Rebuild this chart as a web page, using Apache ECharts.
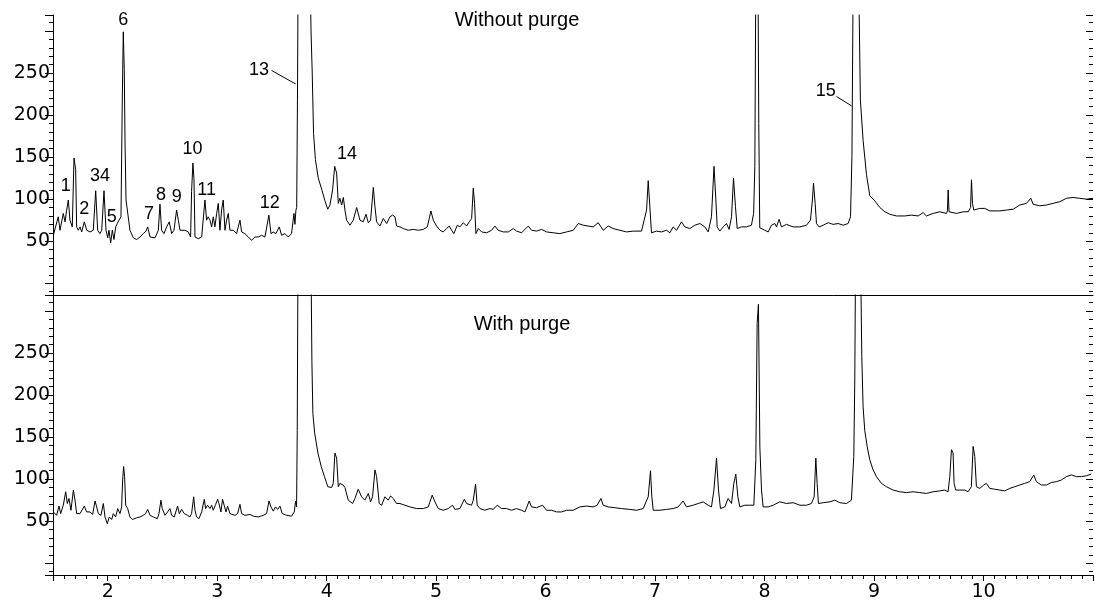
<!DOCTYPE html>
<html>
<head>
<meta charset="utf-8">
<title>Without purge / With purge</title>
<script src="https://cdn.jsdelivr.net/npm/echarts@6/dist/echarts.min.js"></script>
<style>
html, body { margin: 0; padding: 0; background: #fff; }
#chart { width: 1097px; height: 602px; }
</style>
</head>
<body>
<div id="chart"></div>
<script>
// [retention time (min), signal]
const withoutPurge = [
  [1.503,57],[1.548,79],[1.564,63],[1.594,83],[1.610,73],[1.625,87],[1.640,99],[1.655,75],[1.676,67],[1.692,149],
  [1.707,135],[1.716,67],[1.731,63],[1.747,67],[1.762,61],[1.786,73],[1.808,63],[1.838,61],[1.868,63],[1.890,110],
  [1.908,63],[1.929,59],[1.945,63],[1.966,110],[1.984,63],[2.000,54],[2.011,63],[2.027,48],[2.042,63],[2.057,52],
  [2.073,67],[2.087,71],[2.103,75],[2.121,79],[2.133,218],[2.142,299],[2.151,254],[2.158,167],[2.167,99],[2.182,97],
  [2.203,63],[2.234,54],[2.264,52],[2.295,55],[2.325,59],[2.350,62],[2.365,67],[2.386,55],[2.432,54],[2.462,63],
  [2.477,94],[2.492,63],[2.514,59],[2.538,67],[2.562,73],[2.584,59],[2.605,63],[2.629,87],[2.645,75],[2.660,63],
  [2.675,65],[2.705,63],[2.736,61],[2.757,55],[2.766,109],[2.778,143],[2.788,123],[2.797,55],[2.827,53],[2.858,55],
  [2.888,99],[2.903,75],[2.918,79],[2.934,75],[2.949,67],[2.964,79],[2.979,67],[2.995,83],[3.010,95],[3.025,63],
  [3.040,87],[3.055,99],[3.071,63],[3.086,75],[3.101,83],[3.116,63],[3.131,61],[3.147,63],[3.177,59],[3.208,75],
  [3.223,61],[3.253,59],[3.284,55],[3.314,51],[3.345,55],[3.375,55],[3.405,57],[3.436,55],[3.472,81],[3.491,59],
  [3.512,61],[3.536,59],[3.567,67],[3.588,57],[3.619,59],[3.649,55],[3.679,59],[3.701,83],[3.710,70],[3.719,87],
  [3.726,90],[3.733,218],[3.738,340],[3.795,3000],[3.852,340],[3.857,300],[3.868,250],[3.880,178],[3.897,147],[3.923,125],
  [3.954,112],[3.984,98],[4.010,88],[4.030,93],[4.054,111],[4.073,139],[4.091,131],[4.106,95],[4.121,101],[4.137,93],
  [4.152,102],[4.167,87],[4.182,75],[4.213,69],[4.243,75],[4.274,90],[4.304,75],[4.334,73],[4.359,82],[4.380,72],
  [4.401,75],[4.426,114],[4.441,91],[4.456,73],[4.487,68],[4.517,77],[4.548,71],[4.578,79],[4.602,81],[4.624,79],
  [4.639,68],[4.669,67],[4.700,65],[4.745,63],[4.791,64],[4.837,63],[4.882,64],[4.919,67],[4.937,77],[4.952,86],
  [4.974,75],[5.004,68],[5.035,63],[5.065,61],[5.095,65],[5.120,68],[5.141,63],[5.162,59],[5.193,69],[5.217,67],
  [5.248,72],[5.278,68],[5.302,73],[5.324,77],[5.339,113],[5.351,95],[5.363,59],[5.385,65],[5.415,61],[5.461,60],
  [5.506,63],[5.537,68],[5.567,63],[5.613,61],[5.659,61],[5.704,65],[5.735,62],[5.780,60],[5.841,68],[5.872,63],
  [5.917,62],[5.963,64],[6.009,61],[6.070,60],[6.130,59],[6.191,61],[6.252,63],[6.298,71],[6.344,69],[6.389,68],
  [6.435,67],[6.480,72],[6.526,63],[6.571,68],[6.617,65],[6.678,63],[6.739,61],[6.800,62],[6.876,62],[6.900,75],
  [6.922,87],[6.937,122],[6.952,91],[6.967,60],[7.013,62],[7.058,61],[7.104,63],[7.135,60],[7.165,67],[7.196,63],
  [7.241,73],[7.272,67],[7.317,65],[7.363,69],[7.409,71],[7.454,67],[7.485,61],[7.515,79],[7.538,139],[7.555,99],
  [7.567,67],[7.591,62],[7.622,67],[7.652,71],[7.676,64],[7.698,79],[7.716,125],[7.734,91],[7.750,65],[7.789,67],
  [7.835,67],[7.880,69],[7.900,83],[7.911,139],[7.919,340],[7.930,700],[7.941,340],[7.947,190],[7.956,66],[8.002,63],
  [8.033,61],[8.063,69],[8.094,71],[8.109,67],[8.133,76],[8.154,67],[8.200,70],[8.261,67],[8.322,67],[8.383,69],
  [8.419,75],[8.437,99],[8.447,119],[8.462,95],[8.474,71],[8.498,67],[8.535,69],[8.581,72],[8.626,70],[8.672,71],
  [8.718,69],[8.763,71],[8.785,79],[8.798,151],[8.808,340],[8.835,2000],[8.862,340],[8.875,218],[8.900,170],[8.931,129],
  [8.961,104],[9.007,98],[9.053,90],[9.098,85],[9.144,82],[9.205,80],[9.281,80],[9.342,81],[9.403,80],[9.448,84],
  [9.479,80],[9.540,83],[9.601,85],[9.662,83],[9.670,86],[9.677,111],[9.685,85],[9.753,83],[9.814,85],[9.860,85],
  [9.882,90],[9.890,123],[9.899,95],[9.911,87],[9.966,89],[10.012,89],[10.057,86],[10.149,86],[10.210,87],[10.271,88],
  [10.331,93],[10.392,95],[10.432,101],[10.453,94],[10.514,92],[10.575,93],[10.636,95],[10.697,97],[10.757,101],[10.818,102],
  [10.879,101],[10.940,100],[11.000,101]
];

const withPurge = [
  [1.503,61],[1.533,57],[1.555,68],[1.570,59],[1.594,69],[1.616,85],[1.631,71],[1.646,77],[1.664,63],[1.686,87],
  [1.701,75],[1.716,59],[1.747,59],[1.762,61],[1.786,68],[1.807,61],[1.838,61],[1.862,58],[1.884,74],[1.899,67],
  [1.914,59],[1.938,57],[1.960,71],[1.975,55],[1.996,47],[2.014,55],[2.036,52],[2.051,59],[2.072,55],[2.091,65],
  [2.112,59],[2.127,67],[2.136,99],[2.145,115],[2.154,103],[2.164,69],[2.182,65],[2.203,55],[2.225,52],[2.264,54],
  [2.295,55],[2.325,57],[2.346,59],[2.365,64],[2.386,57],[2.416,55],[2.453,53],[2.468,59],[2.486,75],[2.498,65],
  [2.523,57],[2.547,61],[2.568,65],[2.584,57],[2.608,55],[2.638,68],[2.654,59],[2.675,64],[2.699,59],[2.730,57],
  [2.751,55],[2.766,59],[2.785,79],[2.797,63],[2.812,55],[2.833,53],[2.858,61],[2.882,76],[2.894,65],[2.912,69],
  [2.934,65],[2.949,69],[2.964,63],[2.986,70],[3.004,76],[3.016,71],[3.034,61],[3.049,76],[3.065,77],[3.080,61],
  [3.095,68],[3.116,59],[3.132,57],[3.162,57],[3.186,59],[3.208,70],[3.223,59],[3.253,57],[3.299,58],[3.330,56],
  [3.375,55],[3.421,57],[3.451,59],[3.473,74],[3.491,67],[3.512,62],[3.533,67],[3.552,64],[3.573,68],[3.594,59],
  [3.634,57],[3.680,56],[3.704,61],[3.716,74],[3.725,67],[3.731,158],[3.737,340],[3.800,3000],[3.858,340],[3.865,240],
  [3.874,178],[3.890,155],[3.920,131],[3.950,115],[3.980,103],[4.010,91],[4.045,90],[4.060,95],[4.075,131],[4.091,125],
  [4.106,91],[4.121,95],[4.151,93],[4.167,90],[4.197,75],[4.237,71],[4.258,77],[4.288,88],[4.319,79],[4.349,75],
  [4.380,83],[4.401,73],[4.419,79],[4.441,111],[4.456,103],[4.480,71],[4.502,69],[4.532,79],[4.562,75],[4.584,80],
  [4.608,77],[4.638,71],[4.669,71],[4.715,69],[4.760,67],[4.821,65],[4.882,65],[4.928,67],[4.964,81],[4.989,73],
  [5.019,65],[5.065,63],[5.110,65],[5.150,69],[5.171,64],[5.217,65],[5.257,76],[5.278,71],[5.323,69],[5.339,75],
  [5.360,94],[5.375,69],[5.400,65],[5.445,63],[5.491,65],[5.521,64],[5.558,69],[5.597,65],[5.643,65],[5.689,63],
  [5.734,65],[5.780,63],[5.811,61],[5.850,74],[5.871,67],[5.917,66],[5.972,69],[6.008,63],[6.054,63],[6.100,61],
  [6.145,61],[6.191,63],[6.252,63],[6.313,67],[6.374,68],[6.435,67],[6.471,69],[6.505,77],[6.526,69],[6.572,67],
  [6.632,66],[6.693,65],[6.769,64],[6.830,63],[6.891,65],[6.937,79],[6.958,110],[6.970,79],[6.983,63],[7.043,63],
  [7.104,64],[7.165,65],[7.211,67],[7.256,74],[7.287,67],[7.348,69],[7.393,71],[7.439,73],[7.485,69],[7.515,67],
  [7.537,87],[7.561,125],[7.579,87],[7.597,65],[7.637,67],[7.667,77],[7.698,71],[7.719,95],[7.737,106],[7.756,79],
  [7.774,67],[7.820,69],[7.865,69],[7.902,69],[7.920,123],[7.932,285],[7.944,308],[7.957,138],[7.972,87],[7.987,67],
  [8.033,67],[8.078,69],[8.139,73],[8.200,71],[8.261,72],[8.322,69],[8.383,69],[8.428,71],[8.453,79],[8.468,125],
  [8.480,95],[8.492,71],[8.535,72],[8.596,73],[8.641,75],[8.687,72],[8.748,71],[8.793,75],[8.815,127],[8.824,218],
  [8.830,340],[8.855,2000],[8.879,340],[8.888,246],[8.900,186],[8.915,158],[8.937,139],[8.961,123],[8.991,111],[9.022,103],
  [9.067,95],[9.113,91],[9.174,87],[9.235,85],[9.296,84],[9.357,85],[9.418,84],[9.478,83],[9.539,85],[9.600,86],
  [9.646,87],[9.676,85],[9.692,103],[9.707,135],[9.722,131],[9.731,95],[9.746,87],[9.783,87],[9.829,87],[9.859,85],
  [9.889,91],[9.905,139],[9.920,127],[9.935,91],[9.966,89],[10.002,93],[10.026,95],[10.057,89],[10.102,88],[10.148,87],
  [10.194,86],[10.239,89],[10.285,91],[10.331,93],[10.376,95],[10.422,97],[10.459,105],[10.483,97],[10.529,93],[10.574,93],
  [10.620,96],[10.666,97],[10.711,99],[10.757,103],[10.803,105],[10.848,103],[10.894,103],[10.940,104],[10.985,106]
];

const panelTitles = ['Without purge', 'With purge'];
const xTickLabels = [2, 3, 4, 5, 6, 7, 8, 9, 10];
const yTickLabels = [50, 100, 150, 200, 250];

// peak numbers of the upper trace, anchored at [time, signal]
const peakLabels = [
  { name: '1', time: 1.617, signal: 116 },
  { name: '2', time: 1.786, signal: 88 },
  { name: '34', time: 1.929, signal: 127 },
  { name: '5', time: 2.036, signal: 79 },
  { name: '6', time: 2.142, signal: 313 },
  { name: '7', time: 2.377, signal: 82 },
  { name: '8', time: 2.486, signal: 105 },
  { name: '9', time: 2.630, signal: 102 },
  { name: '10', time: 2.774, signal: 160 },
  { name: '11', time: 2.904, signal: 111 },
  { name: '12', time: 3.479, signal: 95 },
  { name: '13', time: 3.381, signal: 254 },
  { name: '14', time: 4.185, signal: 154 },
  { name: '15', time: 8.559, signal: 229 }
];
// leader lines from labels 13 and 15 to their peaks
const leaderLines = [
  [[3.497, 253], [3.716, 237]],
  [[8.657, 222], [8.794, 211]]
];

const black = '#000';
const axisFont = { fontFamily: 'DejaVu Sans', fontSize: 19, color: black };

function xAxisFor(gridIndex, showTicks) {
  return {
    type: 'value', gridIndex: gridIndex, min: 1.5, max: 11,
    minInterval: 1, maxInterval: 1,
    axisLine: { show: true, onZero: false, lineStyle: { color: black, width: 1 } },
    axisTick: { show: showTicks, length: 6, lineStyle: { color: black } },
    minorTick: { show: showTicks, splitNumber: 10, length: 4, lineStyle: { color: black } },
    axisLabel: Object.assign({
      show: showTicks, margin: 8,
      formatter: function (v) { return xTickLabels.indexOf(v) >= 0 ? String(v) : ''; }
    }, axisFont),
    splitLine: { show: false }
  };
}

function yAxisFor(gridIndex, right) {
  return {
    type: 'value', gridIndex: gridIndex, position: right ? 'right' : 'left',
    min: -14, max: 319, minInterval: 50, maxInterval: 50,
    axisLine: { show: !right, onZero: false, lineStyle: { color: black, width: 1 } },
    axisTick: { show: true, inside: right, length: right ? 7 : 8, lineStyle: { color: black } },
    minorTick: { show: true, splitNumber: 5, length: 4, lineStyle: { color: black } },
    axisLabel: Object.assign({
      show: !right, margin: 3,
      formatter: function (v) { return yTickLabels.indexOf(v) >= 0 ? String(v) : ''; }
    }, axisFont),
    splitLine: { show: false }
  };
}

const chart = echarts.init(document.getElementById('chart'));

chart.setOption({
  animation: false,
  backgroundColor: '#fff',
  grid: [
    { left: 53, right: 4, top: 15, height: 280, outerBoundsMode: 'none' },
    { left: 53, right: 4, top: 295, height: 280, outerBoundsMode: 'none' }
  ],
  xAxis: [xAxisFor(0, false), xAxisFor(1, true)],
  yAxis: [yAxisFor(0, false), yAxisFor(1, false), yAxisFor(0, true), yAxisFor(1, true)],
  graphic: [
    { type: 'text', x: 517, y: 20, silent: true,
      style: { text: panelTitles[0], fill: black, fontFamily: 'Liberation Sans', fontSize: 20, align: 'center', verticalAlign: 'middle' } },
    { type: 'text', x: 522, y: 324, silent: true,
      style: { text: panelTitles[1], fill: black, fontFamily: 'Liberation Sans', fontSize: 20, align: 'center', verticalAlign: 'middle' } }
  ],
  series: [
    {
      name: panelTitles[0], type: 'line', xAxisIndex: 0, yAxisIndex: 0,
      data: withoutPurge, showSymbol: false, symbol: 'none', clip: true,
      lineStyle: { color: black, width: 1 },
      markPoint: {
        symbol: 'circle', symbolSize: 0, silent: true,
        label: { show: true, position: 'inside', formatter: '{b}', color: black, fontFamily: 'Liberation Sans', fontSize: 18 },
        data: peakLabels.map(function (p) { return { name: p.name, coord: [p.time, p.signal] }; })
      },
      markLine: {
        symbol: ['none', 'none'], silent: true,
        label: { show: false },
        lineStyle: { color: black, width: 1, type: 'solid' },
        data: leaderLines.map(function (l) { return [{ coord: l[0] }, { coord: l[1] }]; })
      }
    },
    {
      name: panelTitles[1], type: 'line', xAxisIndex: 1, yAxisIndex: 1,
      data: withPurge, showSymbol: false, symbol: 'none', clip: true,
      lineStyle: { color: black, width: 1 }
    }
  ]
});
</script>
</body>
</html>
